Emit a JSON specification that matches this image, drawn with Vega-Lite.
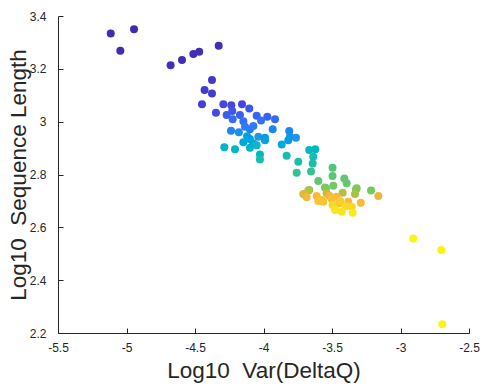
{
  "$schema": "https://vega.github.io/schema/vega-lite/v6.json",
  "autosize": {"type": "none"},
  "width": 411,
  "height": 317,
  "padding": {"left": 58, "top": 16, "right": 11, "bottom": 54},
  "background": "white",
  "config": {
    "view": {"stroke": null},
    "axis": {
      "grid": false,
      "labelFlush": false,
      "labelOverlap": false,
      "domainColor": "#262626",
      "tickColor": "#262626",
      "labelColor": "#262626",
      "titleColor": "#262626",
      "labelFont": "Liberation Sans",
      "titleFont": "Liberation Sans",
      "labelFontSize": 12,
      "titleFontSize": 22.5,
      "titleFontWeight": "normal",
      "tickSize": -5,
      "domainWidth": 1,
      "tickWidth": 1
    }
  },
  "data": {
    "values": [
      {"x": -5.115, "y": 3.334, "c": 0.02},
      {"x": -4.945, "y": 3.35, "c": 0.02},
      {"x": -5.045, "y": 3.268, "c": 0.02},
      {"x": -4.678, "y": 3.214, "c": 0.03},
      {"x": -4.595, "y": 3.233, "c": 0.03},
      {"x": -4.512, "y": 3.256, "c": 0.03},
      {"x": -4.469, "y": 3.265, "c": 0.03},
      {"x": -4.327, "y": 3.287, "c": 0.03},
      {"x": -4.376, "y": 3.158, "c": 0.06},
      {"x": -4.43, "y": 3.12, "c": 0.07},
      {"x": -4.376, "y": 3.107, "c": 0.07},
      {"x": -4.449, "y": 3.066, "c": 0.08},
      {"x": -4.293, "y": 3.066, "c": 0.1},
      {"x": -4.235, "y": 3.062, "c": 0.1},
      {"x": -4.157, "y": 3.066, "c": 0.1},
      {"x": -4.347, "y": 3.034, "c": 0.11},
      {"x": -4.228, "y": 3.04, "c": 0.13},
      {"x": -4.269, "y": 3.025, "c": 0.14},
      {"x": -4.104, "y": 3.05, "c": 0.13},
      {"x": -4.172, "y": 3.025, "c": 0.15},
      {"x": -4.225, "y": 3.009, "c": 0.17},
      {"x": -4.147, "y": 3.002, "c": 0.18},
      {"x": -4.05, "y": 3.022, "c": 0.16},
      {"x": -3.972, "y": 3.019, "c": 0.16},
      {"x": -3.916, "y": 3.009, "c": 0.17},
      {"x": -4.018, "y": 3.004, "c": 0.18},
      {"x": -4.074, "y": 2.984, "c": 0.2},
      {"x": -4.135, "y": 2.981, "c": 0.2},
      {"x": -4.237, "y": 2.966, "c": 0.23},
      {"x": -4.099, "y": 2.971, "c": 0.22},
      {"x": -3.933, "y": 2.971, "c": 0.24},
      {"x": -3.812, "y": 2.965, "c": 0.26},
      {"x": -4.038, "y": 2.943, "c": 0.3},
      {"x": -3.989, "y": 2.939, "c": 0.32},
      {"x": -4.099, "y": 2.934, "c": 0.33},
      {"x": -4.147, "y": 2.922, "c": 0.36},
      {"x": -4.074, "y": 2.918, "c": 0.37},
      {"x": -3.989, "y": 2.93, "c": 0.34},
      {"x": -4.286, "y": 2.903, "c": 0.42},
      {"x": -4.208, "y": 2.896, "c": 0.43},
      {"x": -4.099, "y": 2.901, "c": 0.42},
      {"x": -4.05, "y": 2.911, "c": 0.4},
      {"x": -4.026, "y": 2.876, "c": 0.47},
      {"x": -4.026, "y": 2.857, "c": 0.5},
      {"x": -3.807, "y": 2.943, "c": 0.28},
      {"x": -3.763, "y": 2.939, "c": 0.3},
      {"x": -3.867, "y": 2.914, "c": 0.36},
      {"x": -3.819, "y": 2.93, "c": 0.33},
      {"x": -3.831, "y": 2.871, "c": 0.5},
      {"x": -4.12, "y": 2.945, "c": 0.34},
      {"x": -4.18, "y": 2.96, "c": 0.28},
      {"x": -3.666, "y": 2.893, "c": 0.45},
      {"x": -3.622, "y": 2.896, "c": 0.45},
      {"x": -3.637, "y": 2.867, "c": 0.5},
      {"x": -3.641, "y": 2.842, "c": 0.53},
      {"x": -3.746, "y": 2.848, "c": 0.53},
      {"x": -3.653, "y": 2.811, "c": 0.57},
      {"x": -3.758, "y": 2.807, "c": 0.57},
      {"x": -3.496, "y": 2.826, "c": 0.62},
      {"x": -3.496, "y": 2.794, "c": 0.64},
      {"x": -3.6, "y": 2.775, "c": 0.65},
      {"x": -3.41, "y": 2.785, "c": 0.65},
      {"x": -3.393, "y": 2.767, "c": 0.66},
      {"x": -3.325, "y": 2.744, "c": 0.68},
      {"x": -3.491, "y": 2.757, "c": 0.68},
      {"x": -3.544, "y": 2.748, "c": 0.7},
      {"x": -3.666, "y": 2.741, "c": 0.72},
      {"x": -3.71, "y": 2.726, "c": 0.82},
      {"x": -3.685, "y": 2.714, "c": 0.86},
      {"x": -3.673, "y": 2.739, "c": 0.76},
      {"x": -3.551, "y": 2.751, "c": 0.7},
      {"x": -3.32, "y": 2.748, "c": 0.7},
      {"x": -3.215, "y": 2.739, "c": 0.68},
      {"x": -3.162, "y": 2.719, "c": 0.84},
      {"x": -3.697, "y": 2.723, "c": 0.82},
      {"x": -3.332, "y": 2.726, "c": 0.75},
      {"x": -3.422, "y": 2.731, "c": 0.76},
      {"x": -3.539, "y": 2.729, "c": 0.78},
      {"x": -3.466, "y": 2.716, "c": 0.87},
      {"x": -3.612, "y": 2.719, "c": 0.87},
      {"x": -3.564, "y": 2.697, "c": 0.9},
      {"x": -3.502, "y": 2.706, "c": 0.89},
      {"x": -3.447, "y": 2.691, "c": 0.9},
      {"x": -3.381, "y": 2.697, "c": 0.88},
      {"x": -3.29, "y": 2.693, "c": 0.88},
      {"x": -3.496, "y": 2.685, "c": 0.95},
      {"x": -3.356, "y": 2.678, "c": 0.95},
      {"x": -3.478, "y": 2.666, "c": 0.97},
      {"x": -3.429, "y": 2.659, "c": 0.97},
      {"x": -3.349, "y": 2.655, "c": 0.98},
      {"x": -3.575, "y": 2.703, "c": 0.9},
      {"x": -3.52, "y": 2.72, "c": 0.85},
      {"x": -3.6, "y": 2.7, "c": 0.9},
      {"x": -3.44, "y": 2.7, "c": 0.92},
      {"x": -3.4, "y": 2.68, "c": 0.95},
      {"x": -2.907, "y": 2.558, "c": 1},
      {"x": -2.702, "y": 2.514, "c": 1},
      {"x": -2.695, "y": 2.233, "c": 1}
    ]
  },
  "mark": {"type": "circle", "size": 64, "opacity": 1},
  "encoding": {
    "x": {
      "field": "x",
      "type": "quantitative",
      "scale": {"domain": [-5.5, -2.5], "nice": false, "zero": false},
      "axis": {
        "values": [-5.5, -5, -4.5, -4, -3.5, -3, -2.5],
        "labelExpr": "'' + datum.value",
        "labelPadding": 14,
        "title": "Log10\u00a0\u00a0Var(DeltaQ)",
        "titleBaseline": "alphabetic",
        "titleY": 44.5
      }
    },
    "y": {
      "field": "y",
      "type": "quantitative",
      "scale": {"domain": [2.2, 3.4], "nice": false, "zero": false},
      "axis": {
        "values": [2.2, 2.4, 2.6, 2.8, 3, 3.2, 3.4],
        "labelExpr": "'' + datum.value",
        "labelPadding": 17,
        "title": "Log10\u00a0\u00a0Sequence Length",
        "titleFontSize": 22.5,
        "titleBaseline": "alphabetic",
        "titleX": -33
      }
    },
    "color": {
      "field": "c",
      "type": "quantitative",
      "legend": null,
      "scale": {
        "domain": [0, 0.1, 0.2, 0.3, 0.4, 0.5, 0.6, 0.7, 0.8, 0.87, 0.93, 1],
        "range": ["#3e26a8", "#4545e0", "#3578f5", "#2296e6", "#0db3cf", "#18bcb0", "#45c585", "#7ec85a", "#d0ba3c", "#f8b83a", "#f6d02c", "#f9f514"]
      }
    },
    "order": {"field": "c", "type": "quantitative"}
  }
}
